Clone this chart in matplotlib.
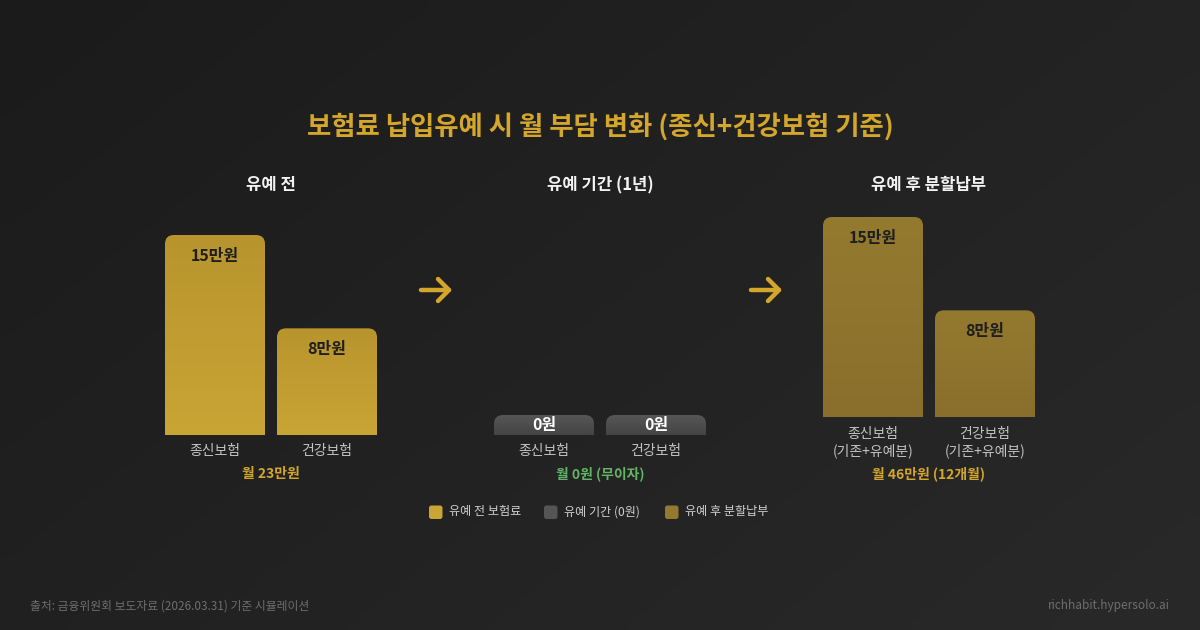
import numpy as np
import matplotlib
matplotlib.use("Agg")
import matplotlib.pyplot as plt
from matplotlib.path import Path
from matplotlib.patches import PathPatch, FancyBboxPatch
from matplotlib.colors import to_rgb

plt.rcParams['font.family'] = ['Noto Sans CJK KR', 'DejaVu Sans']

# ---------------- data ----------------
title = "보험료 납입유예 시 월 부담 변화 (종신+건강보험 기준)"
group_titles = ["유예 전", "유예 기간 (1년)", "유예 후 분할납부"]
categories = ["종신보험", "건강보험"]
before_values = [15, 8]
grace_values = [0, 0]
after_values = [15, 8]
value_labels_before = ["15만원", "8만원"]
value_labels_grace = ["0원", "0원"]
value_labels_after = ["15만원", "8만원"]
after_sublabel = "(기존+유예분)"
totals = ["월 23만원", "월 0원 (무이자)", "월 46만원 (12개월)"]
legend_labels = ["유예 전 보험료", "유예 기간 (0원)", "유예 후 분할납부"]
source_text = "출처: 금융위원회 보도자료 (2026.03.31) 기준 시뮬레이션"
site_text = "richhabit.hypersolo.ai"

# ---------------- style ----------------
W, H = 1200, 630
DPI = 100
GOLD = "#d4a72c"
GREEN = "#62b565"
grad_before = ("#c9a535", "#b8942e")   # bottom, top
grad_grace = ("#444444", "#565656")
grad_after = ("#8a6f2c", "#947a2f")
legend_colors = ["#c9a535", "#555555", "#947a2f"]

fig = plt.figure(figsize=(W / DPI, H / DPI), dpi=DPI)

# background axes in pixel coordinates
bg = fig.add_axes([0, 0, 1, 1])
bg.set_xlim(0, W)
bg.set_ylim(H, 0)
bg.axis("off")
yy, xx = np.mgrid[0:1:64j, 0:1:64j]
t = (xx * 0.6 + yy * 0.4)
c0 = np.array(to_rgb("#1b1b1b"))
c1 = np.array(to_rgb("#292929"))
img = c0[None, None, :] * (1 - t[..., None]) + c1[None, None, :] * t[..., None]
bg.imshow(img, extent=[0, W, H, 0], aspect="auto", interpolation="bicubic", zorder=0)
bg.set_xlim(0, W)
bg.set_ylim(H, 0)

def px(x, y):
    return (x / W, 1 - y / H)

# title
fig.text(*px(600, 127), title, ha="center", va="center", fontsize=19,
         fontweight="bold", color=GOLD)

# group headings
for gx, gt in zip([271, 600, 929], group_titles):
    fig.text(*px(gx, 185), gt, ha="center", va="center", fontsize=12,
             fontweight="bold", color="#f2f2f2")

# arrows
for ax0 in [421, 751]:
    lw = 3.2
    bg.plot([ax0, ax0 + 28], [290, 290], color=GOLD, lw=lw, solid_capstyle="round", zorder=3)
    bg.plot([ax0 + 17, ax0 + 28, ax0 + 17], [279, 290, 301], color=GOLD, lw=lw,
            solid_capstyle="round", solid_joinstyle="round", zorder=3)

PX_PER_UNIT = 200 / 15.0
BAR_PX = 100
STEP_PX = 112
RADIUS_PX = 9


def rounded_top_path(x0, y0, w, h, rx, ry):
    ry = min(ry, h)
    rx = min(rx, w / 2)
    verts = [(x0, y0), (x0, y0 + h - ry), (x0, y0 + h), (x0 + rx, y0 + h),
             (x0 + w - rx, y0 + h), (x0 + w, y0 + h), (x0 + w, y0 + h - ry),
             (x0 + w, y0), (x0, y0)]
    codes = [Path.MOVETO, Path.LINETO, Path.CURVE3, Path.CURVE3, Path.LINETO,
             Path.CURVE3, Path.CURVE3, Path.LINETO, Path.CLOSEPOLY]
    return Path(verts, codes)


def make_group(left_px, bottom_px, values, grad, min_height=0.0):
    width_px = STEP_PX + BAR_PX
    height_px = 240
    ax = fig.add_axes([left_px / W, 1 - bottom_px / H, width_px / W, height_px / H])
    half = BAR_PX / STEP_PX / 2
    ax.set_xlim(-half, 1 + half)
    ax.set_ylim(0, height_px / PX_PER_UNIT)
    ax.axis("off")
    ax.patch.set_alpha(0)
    wdata = BAR_PX / STEP_PX
    shown = [max(v, min_height) for v in values]
    bars = ax.bar(range(len(values)), shown, width=wdata, color="none", edgecolor="none")
    rx = RADIUS_PX / STEP_PX
    ry = RADIUS_PX / PX_PER_UNIT
    cb = np.array(to_rgb(grad[0]))
    ct = np.array(to_rgb(grad[1]))
    g = np.linspace(0, 1, 128)[:, None, None]
    gimg = cb[None, None, :] * (1 - g) + ct[None, None, :] * g
    for b in bars:
        x0, y0 = b.get_x(), b.get_y()
        w, h = b.get_width(), b.get_height()
        path = rounded_top_path(x0, y0, w, h, rx, ry)
        patch = PathPatch(path, facecolor="none", edgecolor="none")
        ax.add_patch(patch)
        im = ax.imshow(gimg, extent=[x0, x0 + w, y0, y0 + h], origin="lower",
                       aspect="auto", interpolation="bilinear", zorder=2)
        im.set_clip_path(patch)
    ax.set_xlim(-half, 1 + half)
    ax.set_ylim(0, height_px / PX_PER_UNIT)
    return ax, shown


PT = 72 / DPI  # points per pixel

# group 1
ax1, s1 = make_group(165, 435, before_values, grad_before)
for i, (v, lab) in enumerate(zip(s1, value_labels_before)):
    ax1.annotate(lab, (i, v), xytext=(0, -21 * PT), textcoords="offset points",
                 ha="center", va="center", fontsize=11.5, fontweight="bold",
                 color="#1e1e1e", zorder=5)
    ax1.annotate(categories[i], (i, 0), xytext=(0, -16 * PT), textcoords="offset points",
                 ha="center", va="center", fontsize=10, color="#c4c4c4",
                 annotation_clip=False)
ax1.annotate(totals[0], (0.5, 0), xytext=(0, -39 * PT), textcoords="offset points",
             ha="center", va="center", fontsize=10, fontweight="bold", color=GOLD,
             annotation_clip=False)

# group 2
ax2, s2 = make_group(494, 435, grace_values, grad_grace, min_height=20 / PX_PER_UNIT)
for i, (v, lab) in enumerate(zip(s2, value_labels_grace)):
    ax2.annotate(lab, (i, v / 2), xytext=(0, 0), textcoords="offset points",
                 ha="center", va="center", fontsize=11.5, fontweight="bold",
                 color="#ffffff", zorder=5)
    ax2.annotate(categories[i], (i, 0), xytext=(0, -16 * PT), textcoords="offset points",
                 ha="center", va="center", fontsize=10, color="#c4c4c4",
                 annotation_clip=False)
ax2.annotate(totals[1], (0.5, 0), xytext=(0, -39 * PT), textcoords="offset points",
             ha="center", va="center", fontsize=10, fontweight="bold", color=GREEN,
             annotation_clip=False)

# group 3
ax3, s3 = make_group(823, 417, after_values, grad_after)
for i, (v, lab) in enumerate(zip(s3, value_labels_after)):
    ax3.annotate(lab, (i, v), xytext=(0, -21 * PT), textcoords="offset points",
                 ha="center", va="center", fontsize=11.5, fontweight="bold",
                 color="#1e1e1e", zorder=5)
    ax3.annotate(categories[i], (i, 0), xytext=(0, -17 * PT), textcoords="offset points",
                 ha="center", va="center", fontsize=10, color="#c4c4c4",
                 annotation_clip=False)
    ax3.annotate(after_sublabel, (i, 0), xytext=(0, -34 * PT), textcoords="offset points",
                 ha="center", va="center", fontsize=10, color="#c4c4c4",
                 annotation_clip=False)
ax3.annotate(totals[2], (0.5, 0), xytext=(0, -57 * PT), textcoords="offset points",
             ha="center", va="center", fontsize=10, fontweight="bold", color=GOLD,
             annotation_clip=False)

# legend (manual)
for sx, tx, col, lab in zip([429, 544, 665], [449, 564, 685], legend_colors, legend_labels):
    bg.add_patch(FancyBboxPatch((sx, 505.5), 13.5, 13.5,
                                boxstyle="round,pad=0,rounding_size=2.5",
                                facecolor=col, edgecolor="none", zorder=3))
    bg.text(tx, 512, lab, ha="left", va="center", fontsize=8.7, color="#d0d0d0", zorder=3)

# footer
bg.text(30, 606, source_text, ha="left", va="center", fontsize=8.5, color="#6e6e6e")
bg.text(1170, 606, site_text, ha="right", va="center", fontsize=8.5, color="#6e6e6e")

fig.savefig("out.png", dpi=DPI)
